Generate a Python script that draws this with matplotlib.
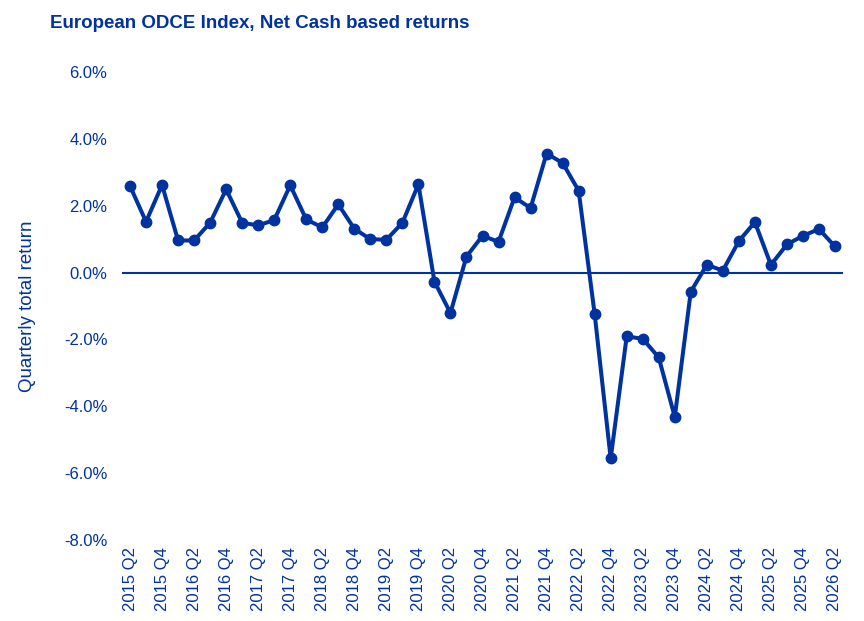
import matplotlib
matplotlib.use("Agg")
import matplotlib.pyplot as plt
from matplotlib.ticker import FuncFormatter

plt.rcParams['font.family'] = ['Liberation Sans', 'DejaVu Sans']

quarters = []
for y in range(2015, 2027):
    for q in range(1, 5):
        if (y == 2015 and q < 2) or (y == 2026 and q > 2):
            continue
        quarters.append(f"{y} Q{q}")

returns = [2.59, 1.52, 2.62, 0.96, 0.96, 1.49, 2.49, 1.49, 1.41, 1.57,
           2.61, 1.59, 1.35, 2.04, 1.31, 1.00, 0.98, 1.49, 2.64, -0.27,
           -1.21, 0.48, 1.10, 0.92, 2.25, 1.93, 3.56, 3.28, 2.45, -1.24,
           -5.56, -1.91, -1.98, -2.54, -4.32, -0.57, 0.23, 0.06, 0.94, 1.51,
           0.23, 0.84, 1.10, 1.30, 0.78]

title = "European ODCE Index, Net Cash based returns"
ylabel = "Quarterly total return"
color = "#0033A0"

fig = plt.figure(figsize=(8.64, 6.21), dpi=100)
ax = fig.add_axes([0.1412, 0.1304, 0.8345, 0.7537])

x = list(range(len(quarters)))
ax.plot(x, returns, color=color, lw=2.9, marker='o', markersize=7.5, zorder=3)
ax.axhline(0, color=color, lw=1.5, zorder=2)

ax.set_xlim(-0.5, len(quarters) - 0.5)
ax.set_ylim(-8, 6)
ax.set_yticks([-8, -6, -4, -2, 0, 2, 4, 6])
ax.yaxis.set_major_formatter(FuncFormatter(lambda v, p: f"{v:.1f}%"))
ax.set_xticks(x[::2])
ax.set_xticklabels(quarters[::2], rotation=90)
ax.tick_params(axis='both', length=0, labelsize=12, labelcolor=color)
ax.tick_params(axis='y', pad=10.5)
ax.tick_params(axis='x', pad=5)
for s in ax.spines.values():
    s.set_visible(False)

ax.set_ylabel(ylabel, fontsize=13.5, color=color, labelpad=20)
fig.text(0.058, 0.976, title, fontsize=13.5, fontweight='bold', color=color,
         ha='left', va='top')

fig.savefig("out.png", dpi=100)
